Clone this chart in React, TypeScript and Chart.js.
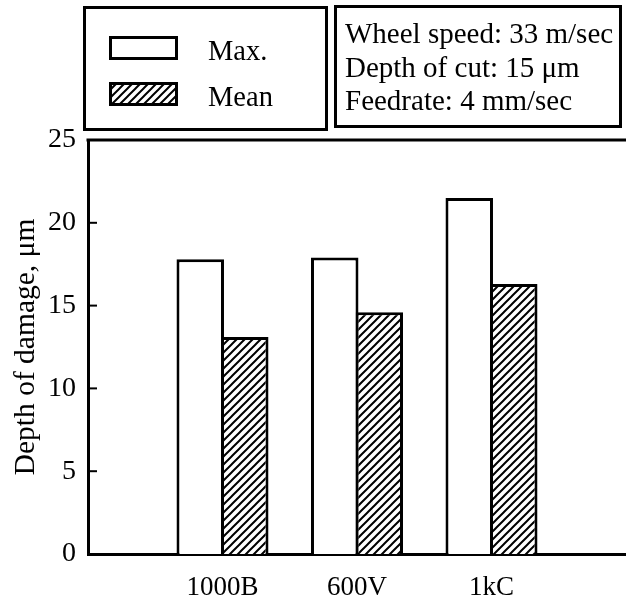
import React, { useEffect, useRef } from 'react';
import { Chart, registerables } from 'chart.js';

Chart.register(...registerables);

const categories = ['1000B', '600V', '1kC'];
const maxValues = [17.8, 17.9, 21.5];
const meanValues = [13.1, 14.6, 16.3];
const yTickValues = [0, 5, 10, 15, 20, 25];
const seriesLabels = ['Max.', 'Mean'];
const conditionLines = ['Wheel speed: 33 m/sec', 'Depth of cut: 15 \u03bcm', 'Feedrate: 4 mm/sec'];
const yTitle = 'Depth of damage, \u03bcm';

const FONT = '"Liberation Serif", "Times New Roman", serif';

function makeHatch(): CanvasPattern | string {
  const c = document.createElement('canvas');
  c.width = 8;
  c.height = 8;
  const g = c.getContext('2d');
  if (!g) return '#888';
  g.fillStyle = '#fff';
  g.fillRect(0, 0, 8, 8);
  g.strokeStyle = '#000';
  g.lineWidth = 2;
  g.beginPath();
  g.moveTo(-4, 12); g.lineTo(12, -4);
  g.moveTo(-4, 4); g.lineTo(4, -4);
  g.moveTo(4, 12); g.lineTo(12, 4);
  g.stroke();
  return g.createPattern(c, 'repeat') || '#888';
}

const decorPlugin = {
  id: 'decor',
  afterDraw(chart: any) {
    const { ctx, chartArea, scales } = chart;
    const yScale = scales.y;
    ctx.save();
    ctx.strokeStyle = '#000';
    // top frame line
    ctx.lineWidth = 3;
    ctx.beginPath();
    ctx.moveTo(chartArea.left - 1.5, chartArea.top);
    ctx.lineTo(chart.width, chartArea.top);
    ctx.stroke();
    // inward tick marks
    ctx.lineWidth = 2;
    yScale.ticks.forEach((t: any) => {
      if (t.value <= yScale.min || t.value >= yScale.max) return;
      const py = yScale.getPixelForValue(t.value);
      ctx.beginPath();
      ctx.moveTo(chartArea.left, py);
      ctx.lineTo(chartArea.left + 9, py);
      ctx.stroke();
    });

    // legend box
    ctx.lineWidth = 3;
    ctx.strokeRect(84.5, 7.5, 242, 122);
    const ds = chart.data.datasets;
    const swY = [37, 83];
    const txtY = [60, 106];
    ctx.font = `28.5px ${FONT}`;
    ctx.textBaseline = 'alphabetic';
    ds.forEach((d: any, i: number) => {
      ctx.fillStyle = d.backgroundColor;
      ctx.fillRect(110, swY[i], 67, 22);
      ctx.lineWidth = 3;
      ctx.strokeRect(110.5, swY[i] + 0.5, 66, 21);
      ctx.fillStyle = '#000';
      ctx.fillText(d.label, 208, txtY[i]);
    });

    // conditions box
    ctx.lineWidth = 3;
    ctx.strokeRect(335.5, 6.5, 285, 120);
    ctx.fillStyle = '#000';
    ctx.font = `29px ${FONT}`;
    const lineY = [43, 77, 110];
    conditionLines.forEach((s, i) => ctx.fillText(s, 345, lineY[i]));
    ctx.restore();
  },
};

export default function App() {
  const ref = useRef<HTMLCanvasElement>(null);
  useEffect(() => {
    if (!ref.current) return;
    const hatch = makeHatch();
    const labels = ['', ...categories, ''];
    const chart = new Chart(ref.current, {
      type: 'bar',
      data: {
        labels,
        datasets: [
          {
            label: seriesLabels[0],
            data: [null, ...maxValues, null],
            backgroundColor: '#fff',
            borderColor: '#000',
            borderWidth: 3,
          },
          {
            label: seriesLabels[1],
            data: [null, ...meanValues, null],
            backgroundColor: hatch as any,
            borderColor: '#000',
            borderWidth: 3,
          },
        ],
      },
      options: {
        responsive: false,
        animation: false,
        categoryPercentage: 0.662,
        barPercentage: 1.067,
        layout: { padding: { top: 140, left: 0, right: 0, bottom: 0 } },
        plugins: { legend: { display: false }, tooltip: { enabled: false } },
        scales: {
          x: {
            offset: false,
            grid: { display: false, drawTicks: false },
            border: { display: true, color: '#000', width: 3 },
            ticks: {
              color: '#000',
              font: { family: FONT, size: 27 },
              padding: 18,
              autoSkip: false,
              maxRotation: 0,
            },
            afterFit: (s: any) => { s.height = 50; s.paddingLeft = 0; s.paddingRight = 0; },
          },
          y: {
            min: 0,
            max: 25,
            afterBuildTicks: (s: any) => { s.ticks = yTickValues.map((v) => ({ value: v })); },
            ticks: { color: '#000', font: { family: FONT, size: 28 }, padding: 12 },
            grid: { display: false, drawTicks: false },
            border: { display: true, color: '#000', width: 3 },
            title: {
              display: true,
              text: yTitle,
              color: '#000',
              font: { family: FONT, size: 29.5 },
              padding: { top: 9, bottom: 0 },
            },
            afterFit: (s: any) => { s.width = 88; },
          },
        },
      } as any,
      plugins: [decorPlugin],
    });
    return () => chart.destroy();
  }, []);
  return (
    <div style={{ position: 'absolute', left: 0, top: 0, width: 626, height: 604, background: '#fff' }}>
      <canvas ref={ref} width={626} height={604} />
    </div>
  );
}
